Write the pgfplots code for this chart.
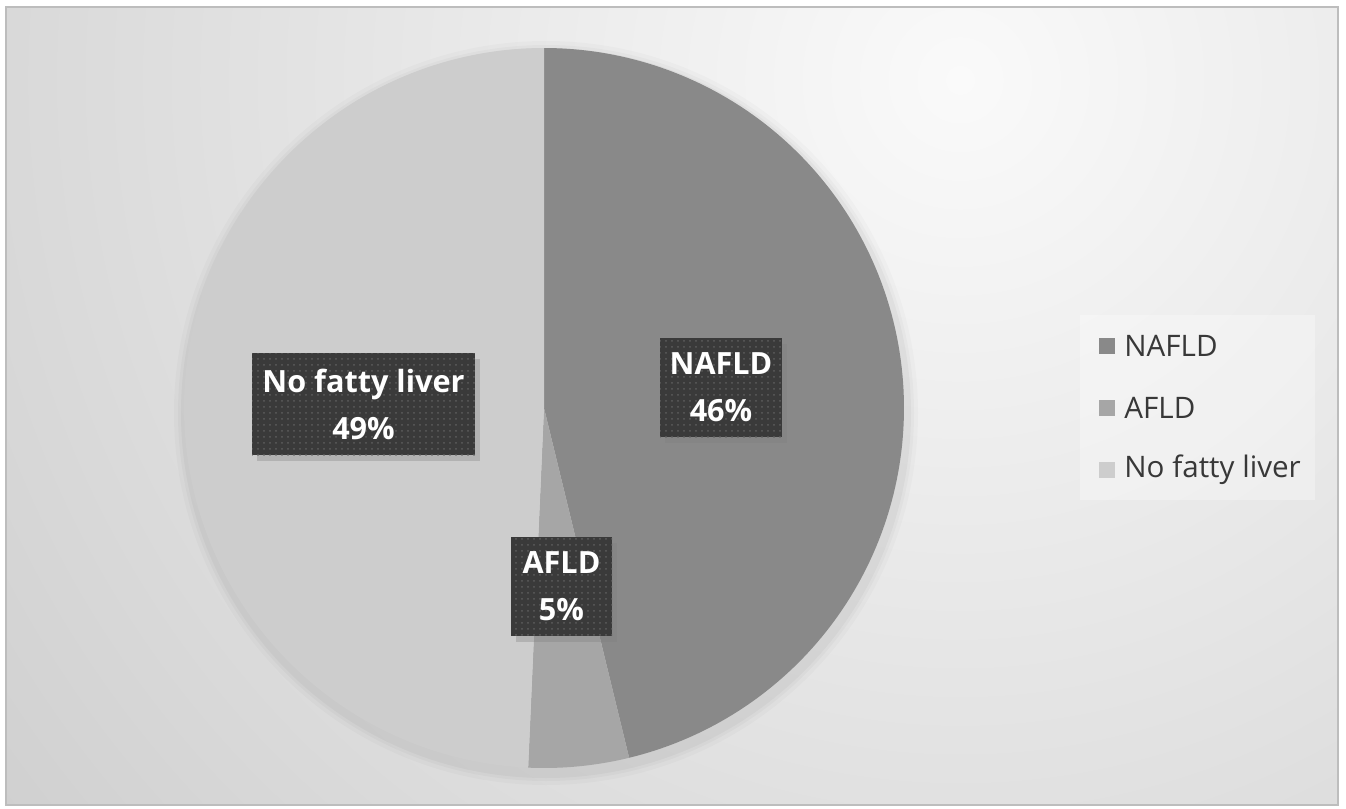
\documentclass[border=0pt]{standalone}
\usepackage{pgfplots}
\pgfplotsset{compat=1.18}
\usepackage{pgfplotstable}
\usepackage{fontspec}
\setmainfont{Open Sans}
\usetikzlibrary{patterns,shadows}

\definecolor{cNAFLD}{HTML}{898989}
\definecolor{cAFLD}{HTML}{A6A6A6}
\definecolor{cNone}{HTML}{CDCDCD}
\definecolor{bgout}{HTML}{C5C5C5}
\definecolor{bgin}{HTML}{FAFAFA}
\definecolor{frame}{HTML}{BDBDBD}
\definecolor{labdark}{HTML}{3A3A3A}
\definecolor{legtext}{HTML}{383838}

\pgfplotstableread{
label value
NAFLD 46.2
AFLD 4.5
None 49.3
}\piedata

\pgfplotstablegetelem{0}{value}\of\piedata \let\vA\pgfplotsretval
\pgfplotstablegetelem{1}{value}\of\piedata \let\vB\pgfplotsretval
\pgfplotstablegetelem{2}{value}\of\piedata \let\vC\pgfplotsretval
\pgfmathsetmacro\aZero{90}
\pgfmathsetmacro\aA{90-3.6*\vA}
\pgfmathsetmacro\aB{\aA-3.6*\vB}
\pgfmathsetmacro\aC{\aB-3.6*\vC}

\begin{document}
\begin{tikzpicture}
\begin{axis}[width=673pt,height=404.5pt,scale only axis,hide axis,
  xmin=0,xmax=1346,ymin=0,ymax=809,y dir=reverse,clip=false]
% background
\fill[white] (axis cs:0,0) rectangle (axis cs:1346,809);
\begin{scope}
\clip (axis cs:6,7) rectangle (axis cs:1338,805);
\fill[bgout] (axis cs:6,7) rectangle (axis cs:1338,805);
\shade[inner color=bgin, outer color=bgout] (axis cs:960,80) circle (760pt);
\end{scope}
\draw[frame, line width=1.2pt] (axis cs:6,7) rectangle (axis cs:1338,805);

% soft shadow under the pie
\fill[black, opacity=0.02] (axis cs:546,413) circle (186pt);
\fill[black, opacity=0.025] (axis cs:546,413) circle (184pt);
\fill[black, opacity=0.03] (axis cs:546,413) circle (182.5pt);

% slices
\addplot[draw=none, fill=cNAFLD, domain=\aA:\aZero, samples=150, variable=\t]
  ({544+360*cos(\t)},{408-360*sin(\t)}) -- (axis cs:544,408) -- cycle;
\addplot[draw=none, fill=cAFLD, domain=\aB:\aA, samples=30, variable=\t]
  ({544+360*cos(\t)},{408-360*sin(\t)}) -- (axis cs:544,408) -- cycle;
\addplot[draw=none, fill=cNone, domain=\aC:\aB, samples=150, variable=\t]
  ({544+360*cos(\t)},{408-360*sin(\t)}) -- (axis cs:544,408) -- cycle;

% data labels
\tikzset{lab/.style={preaction={fill=labdark, drop shadow={shadow xshift=2.5pt, shadow yshift=-3pt, opacity=0.35}},
  pattern=dots, pattern color=gray!50!labdark, text=white, align=center, inner sep=0pt,
  font=\bfseries\fontsize{15.3}{23.5}\selectfont}}
\node[lab, minimum width=111.5pt, minimum height=51pt] at (axis cs:363.5,404) {No fatty liver\\49\%};
\node[lab, minimum width=61pt, minimum height=49.5pt] at (axis cs:721,387.5) {NAFLD\\46\%};
\node[lab, minimum width=50.5pt, minimum height=49.5pt] at (axis cs:561.5,586.5) {AFLD\\5\%};

% legend
\fill[white, opacity=0.3] (axis cs:1080,315) rectangle (axis cs:1315,500);
\fill[cNAFLD] (axis cs:1099,338) rectangle (axis cs:1115,354);
\fill[cAFLD] (axis cs:1099,400) rectangle (axis cs:1115,416);
\fill[cNone] (axis cs:1099,462) rectangle (axis cs:1115,478);
\tikzset{leg/.style={anchor=west, inner sep=0pt, text=legtext, font=\fontsize{14.8}{16}\selectfont}}
\node[leg] at (axis cs:1124,346) {NAFLD};
\node[leg] at (axis cs:1124,408) {AFLD};
\node[leg] at (axis cs:1124,470) {No fatty liver};
\end{axis}
\end{tikzpicture}
\end{document}
